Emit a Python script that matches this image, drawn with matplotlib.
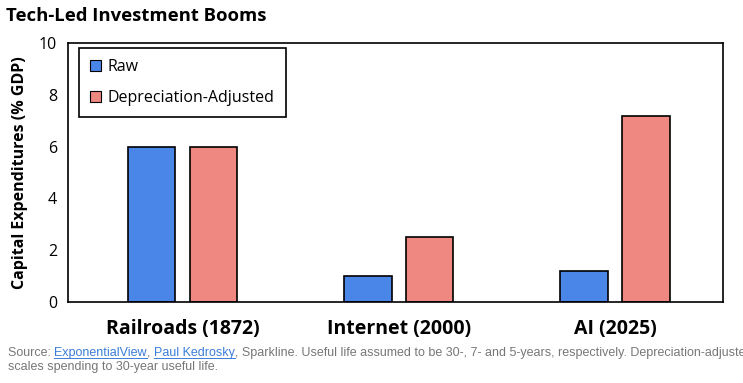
import matplotlib
matplotlib.use('Agg')
from matplotlib import pyplot as plt
from matplotlib.lines import Line2D
import numpy as np

# 数据
categories = ['Railroads (1872)', 'Internet (2000)', 'AI (2025)']
raw_values = [6.0, 1.0, 1.2]
adj_values = [6.0, 2.5, 7.2]
series_labels = ['Raw', 'Depreciation-Adjusted']

blue = '#4A86E8'
red = '#F08882'

plt.rcParams['font.family'] = ['Open Sans', 'DejaVu Sans']

fig = plt.figure(figsize=(7.43, 3.83), dpi=100)
ax = fig.add_axes([68/743, 1-302/383, 655/743, 259/383])

x = np.arange(len(categories))
w = 0.22
off = 0.143
ax.bar(x - off, raw_values, w, color=blue, edgecolor='black', linewidth=1.2, label=series_labels[0])
ax.bar(x + off, adj_values, w, color=red, edgecolor='black', linewidth=1.2, label=series_labels[1])

ax.set_xlim(-0.53, 2.5)
ax.set_ylim(0, 10)
ax.set_yticks([0, 2, 4, 6, 8, 10])
ax.set_xticks(x)
ax.set_xticklabels(categories, fontsize=14, fontweight='bold')
ax.tick_params(axis='both', length=0)
ax.tick_params(axis='y', labelsize=11.5, pad=8)
ax.tick_params(axis='x', pad=12)
for s in ax.spines.values():
    s.set_linewidth(1.2)
ax.set_ylabel('Capital Expenditures (% GDP)', fontsize=11.5, fontweight='bold', labelpad=8)

leg = ax.legend(loc='upper left', bbox_to_anchor=(0.017, 0.982), fontsize=11.5,
                frameon=True, fancybox=False, edgecolor='black', framealpha=1,
                handlelength=0.7, handleheight=0.7, handletextpad=0.4,
                borderpad=0.7, labelspacing=0.95, borderaxespad=0)
leg.get_frame().set_linewidth(1.2)
for h in leg.legend_handles:
    h.set_linewidth(0.8)

fig.text(6/743, 1-16/383, 'Tech-Led Investment Booms', fontsize=13.3, fontweight='bold',
         va='center', ha='left')

# 来源说明，链接部分为蓝色下划线
src_font = ['Liberation Sans Narrow', 'Liberation Sans', 'DejaVu Sans']
parts = [('Source: ', '#777777', False), ('ExponentialView', '#3B7DD8', True),
         (', ', '#777777', False), ('Paul Kedrosky', '#3B7DD8', True),
         (', Sparkline. Useful life assumed to be 30-, 7- and 5-years, respectively. Depreciation-adjusted', '#777777', False)]
fig.canvas.draw()
renderer = fig.canvas.get_renderer()
xpos = 8
ypix = 383 - 356
for txt, col, link in parts:
    t = fig.text(xpos/743, ypix/383, txt, fontsize=9.0, color=col, family=src_font,
                 ha='left', va='baseline')
    bb = t.get_window_extent(renderer)
    if link:
        fig.add_artist(Line2D([bb.x0/743, bb.x1/743], [(ypix-2)/383, (ypix-2)/383],
                              color=col, linewidth=0.7, transform=fig.transFigure))
    xpos = bb.x1
fig.text(8/743, (383-370)/383, 'scales spending to 30-year useful life.', fontsize=9.0,
         color='#777777', family=src_font, ha='left', va='baseline')

fig.savefig('out.png', dpi=100)
